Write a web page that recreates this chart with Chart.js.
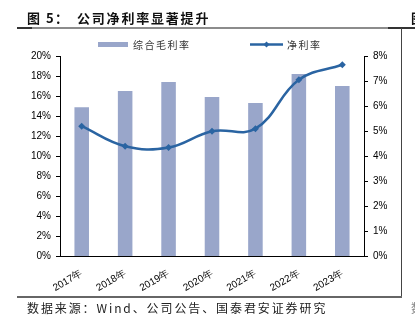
<!DOCTYPE html>
<html>
<head>
<meta charset="utf-8">
<script src="https://cdn.jsdelivr.net/npm/chart.js@4"></script>
<style>
  body { margin: 0; background: #fff; overflow: hidden; width: 415px; height: 322px; position: relative; }
  .title { position: absolute; top: 9px; font: bold 13px "Noto Sans CJK SC"; color: #111; white-space: nowrap; line-height: 18px; }
  .src { position: absolute; left: 27px; top: 300px; font: 12px "Noto Sans CJK SC"; letter-spacing: 1.9px; color: #222; white-space: nowrap; line-height: 16px; }
  .src2 { position: absolute; left: 411px; top: 300px; font: 12px "Noto Sans CJK SC"; color: #888; white-space: nowrap; line-height: 16px; }
  .hl { position: absolute; height: 2px; background: #8c8c8c; }
  .vl { position: absolute; width: 1px; background: #444; }
  #wrap { position: absolute; left: 0; top: 0; width: 415px; height: 322px; }
</style>
</head>
<body>
<div id="wrap"><canvas id="margin" width="415" height="322"></canvas></div>
<div class="title" style="left:27px; letter-spacing:1.5px;">图 5：</div>
<div class="title" style="left:77px; letter-spacing:1.8px;">公司净利率显著提升</div>
<div class="title" style="left:411px;">图</div>
<div class="hl" style="left:17px; top:27px; width:371px;"></div>
<div class="hl" style="left:17px; top:27px; width:15px; background:#333;"></div>
<div class="hl" style="left:388px; top:27px; width:27px; background:#333;"></div>
<div class="vl" style="left:401px; top:28px; height:270px;"></div>
<div class="hl" style="left:17px; top:296px; width:385px; background:#666;"></div>
<div class="src">数据来源：Wind、公司公告、国泰君安证券研究</div>
<div class="src2">数</div>
<script>
const years = ['2017年', '2018年', '2019年', '2020年', '2021年', '2022年', '2023年']
const grossMargin = [14.9, 16.5, 17.4, 15.9, 15.3, 18.2, 17.0]   // 综合毛利率, %
const netMargin = [5.2, 4.4, 4.35, 5.0, 5.1, 7.05, 7.65]          // 净利率, %
const barColor = '#99a6ca'
const lineColor = '#2a64a2'

const ctx = document.getElementById('margin')

// legend drawn by hand: bar swatch + line with diamond
const legendPlugin = {
  id: 'legendRow',
  afterDraw(chart) {
    const c = chart.ctx
    c.save()
    c.fillStyle = barColor
    c.fillRect(98, 42, 30, 5)
    c.strokeStyle = lineColor
    c.lineWidth = 2.5
    c.beginPath()
    c.moveTo(250, 44.5)
    c.lineTo(283, 44.5)
    c.stroke()
    c.fillStyle = lineColor
    c.beginPath()
    c.moveTo(266.5, 41.5); c.lineTo(269.5, 44.5); c.lineTo(266.5, 47.5); c.lineTo(263.5, 44.5)
    c.closePath()
    c.fill()
    c.font = '10px "Noto Sans CJK SC"'
    c.letterSpacing = '1.5px'
    c.fillStyle = '#333'
    c.textBaseline = 'middle'
    c.fillText('综合毛利率', 133, 45)
    c.fillText('净利率', 287, 45)
    c.restore()
  }
}

const tickFont = { family: '"Liberation Sans", Arial', size: 10 }

const myChart = new Chart(ctx, {
  data: {
    labels: years,
    datasets: [{
      type: 'line',
      label: '净利率',
      data: netMargin,
      yAxisID: 'y1',
      borderColor: lineColor,
      backgroundColor: lineColor,
      borderWidth: 2.5,
      tension: 0.4,
      pointStyle: 'rectRot',
      pointRadius: 3.5,
      pointBorderWidth: 0,
      order: 1
    }, {
      type: 'bar',
      label: '综合毛利率',
      data: grossMargin,
      yAxisID: 'y',
      backgroundColor: barColor,
      categoryPercentage: 1,
      barPercentage: 0.335,
      order: 2
    }]
  },
  plugins: [legendPlugin],
  options: {
    responsive: false,
    animation: false,
    layout: { padding: { top: 56, left: 0, right: 0, bottom: 0 } },
    plugins: { legend: { display: false }, tooltip: { enabled: false } },
    scales: {
      x: {
        grid: { display: false },
        border: { display: true, color: '#000', width: 1 },
        ticks: { font: tickFont, color: '#000', maxRotation: 30, minRotation: 30, padding: 3 },
        afterFit(scale) { scale.height = 65.5 }
      },
      y: {
        position: 'left',
        min: 0,
        max: 20,
        grid: { drawOnChartArea: false, drawTicks: true, tickLength: 4, color: '#000' },
        border: { display: true, color: '#000', width: 1 },
        ticks: { stepSize: 2, font: tickFont, color: '#000', padding: 5, callback: v => v + '%' },
        afterFit(scale) { scale.width = 60 }
      },
      y1: {
        position: 'right',
        min: 0,
        max: 8,
        grid: { drawOnChartArea: false, drawTicks: true, tickLength: 4, color: '#000' },
        border: { display: true, color: '#000', width: 1 },
        ticks: { stepSize: 1, font: tickFont, color: '#000', padding: 5, callback: v => v + '%' },
        afterFit(scale) { scale.width = 51 }
      }
    }
  }
})
</script>
</body>
</html>
